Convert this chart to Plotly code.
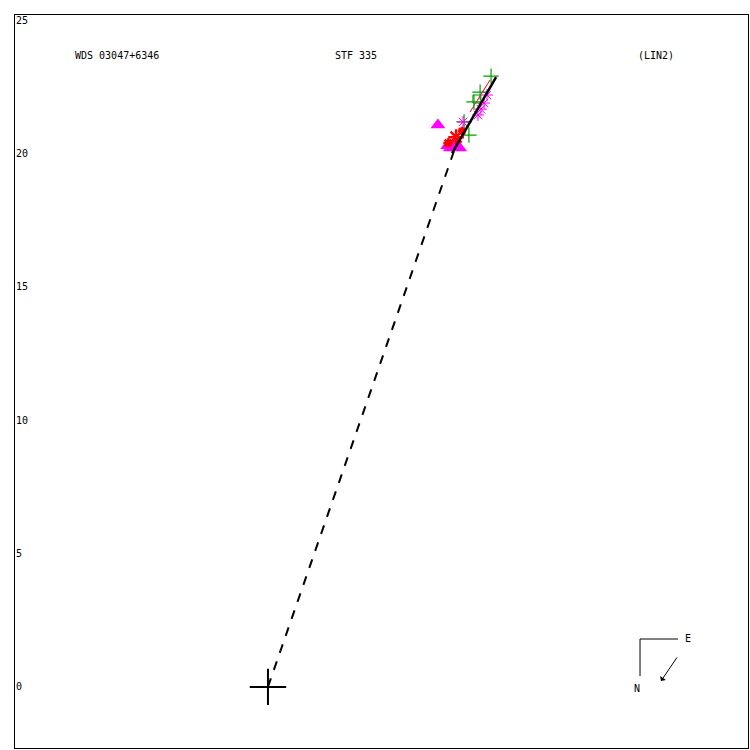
import plotly.graph_objects as go

# ---- data (arcsec offsets) ----
green_plus_x = [8.36, 7.95, 7.72, 7.35, 7.53]
green_plus_y = [22.90, 22.30, 21.93, 21.18, 20.69]
green_sq_x = [7.83]
green_sq_y = [22.04]
mag_ast_x = [8.21, 8.10, 7.98, 7.87, 7.31]
mag_ast_y = [22.19, 21.89, 21.66, 21.44, 21.18]
red_ast_x = [7.05, 6.75, 7.27]
red_ast_y = [20.61, 20.39, 20.84]
red_ast_size = [13, 8, 7]
red_line_x = [7.57, 8.32]
red_line_y = [21.55, 22.75]
tri_x = [6.37, 7.01, 6.78]
tri_y = [21.07, 20.28, 20.31]
tri_size = [13, 21, 15]
fit_x = [6.90, 8.55]
fit_y = [20.01, 22.86]
dash_x = [0.0, 7.01]
dash_y = [0.0, 20.20]
y_ticks = [0, 5, 10, 15, 20, 25]

FONT = "DejaVu Sans Mono"

fig = go.Figure()
fig.add_trace(go.Scatter(x=dash_x, y=dash_y, mode="lines",
                         line=dict(color="black", width=2, dash="dash")))
fig.add_trace(go.Scatter(x=red_line_x, y=red_line_y, mode="lines",
                         line=dict(color="red", width=1)))
fig.add_trace(go.Scatter(x=tri_x, y=tri_y, mode="markers",
                         marker=dict(symbol="triangle-up", size=tri_size, color="#ff00ff",
                                     opacity=1, line=dict(width=0))))
fig.add_trace(go.Scatter(x=green_plus_x, y=green_plus_y, mode="markers",
                         marker=dict(symbol="cross-thin", size=11, color="#00a000",
                                     opacity=1, line=dict(color="#00a000", width=1.2))))
fig.add_trace(go.Scatter(x=green_sq_x, y=green_sq_y, mode="markers",
                         marker=dict(symbol="square-open", size=8, color="#00a000",
                                     opacity=1, line=dict(color="#00a000", width=1))))
fig.add_trace(go.Scatter(x=mag_ast_x, y=mag_ast_y, mode="markers",
                         marker=dict(symbol="asterisk-open", size=10, color="#ff00ff",
                                     opacity=1, line=dict(color="#ff00ff", width=1))))
fig.add_trace(go.Scatter(x=red_ast_x, y=red_ast_y, mode="markers",
                         marker=dict(symbol="asterisk-open", size=red_ast_size, color="red",
                                     opacity=1, line=dict(color="red", width=2.5))))
fig.add_trace(go.Scatter(x=fit_x, y=fit_y, mode="lines",
                         line=dict(color="black", width=2.5)))
fig.add_trace(go.Scatter(x=[0], y=[0], mode="markers",
                         marker=dict(symbol="cross-thin", size=26, color="black",
                                     line=dict(color="black", width=2))))

ann_font = dict(family=FONT, size=10, color="black")
annotations = [
    dict(x=0.079, y=0.945, xref="paper", yref="paper", text="WDS 03047+6346",
         showarrow=False, xanchor="left", yanchor="middle", font=ann_font),
    dict(x=0.434, y=0.945, xref="paper", yref="paper", text="STF 335",
         showarrow=False, xanchor="left", yanchor="middle", font=ann_font),
    dict(x=0.847, y=0.945, xref="paper", yref="paper", text="(LIN2)",
         showarrow=False, xanchor="left", yanchor="middle", font=ann_font),
    dict(x=0.918, y=0.1500, xref="paper", yref="paper", text="E",
         showarrow=False, xanchor="center", yanchor="middle", font=ann_font),
    dict(x=0.8486, y=0.0805, xref="paper", yref="paper", text="N",
         showarrow=False, xanchor="center", yanchor="middle", font=ann_font),
    dict(x=0.8813, y=0.0914, xref="paper", yref="paper", text="",
         showarrow=True, ax=17, ay=-25, arrowhead=1, arrowsize=1.2,
         arrowwidth=1, arrowcolor="black"),
]

shapes = [
    dict(type="line", xref="paper", yref="paper", x0=0.8527, y0=0.1487,
         x1=0.9045, y1=0.1487, line=dict(color="black", width=1)),
    dict(type="line", xref="paper", yref="paper", x0=0.8527, y0=0.1487,
         x1=0.8527, y1=0.0982, line=dict(color="black", width=1)),
]

fig.update_layout(
    width=750, height=750,
    margin=dict(l=15, r=2, t=15, b=2),
    paper_bgcolor="white", plot_bgcolor="white",
    showlegend=False,
    annotations=annotations, shapes=shapes,
    font=dict(family=FONT, size=10, color="black"),
    xaxis=dict(range=[-9.48, 17.99], showgrid=False, zeroline=False,
               showticklabels=False, ticks="", showline=True, mirror=True,
               linecolor="black", linewidth=1),
    yaxis=dict(range=[-2.29, 25.19], showgrid=False, zeroline=False,
               tickvals=y_ticks, ticktext=[str(v) for v in y_ticks],
               ticks="", ticklabelposition="inside", ticklabeloverflow="allow",
               showline=True, mirror=True, linecolor="black", linewidth=1,
               tickfont=dict(family=FONT, size=10, color="black")),
)

fig.write_html("out.html", config={"displayModeBar": False},
               post_script="document.body.style.margin='0';document.body.style.overflow='hidden';")
